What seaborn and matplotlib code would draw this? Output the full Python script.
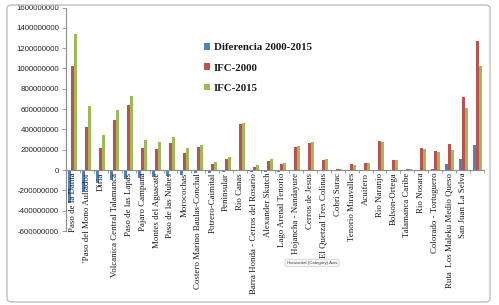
import numpy as np
import pandas as pd
import matplotlib
matplotlib.use("Agg")
import matplotlib.pyplot as plt
from matplotlib.patches import FancyBboxPatch, Patch
from matplotlib.ticker import FixedLocator, FuncFormatter
import seaborn as sns

# Data
categories = [
    "Paso de la Danta", "'Paso del Mono Aullador", "Diria", "Volcanica Central Talamanca",
    "Paso de las Lapas", "Pajaro Campana", "Montes del Aguacate", "Paso de las Nubes",
    "Morocochas", "Costero Marino Baulas-Conchal", "Potrero-Caimital", "Peninsular",
    "Rio Canas", "Barra Honda - Cerros del Rosario", "Alexander Skutch", "Lago Arenal Tenorio",
    "Hojancha - Nandayure", "Cerros de Jesus", "El Quetzal Tres Colinas", "Cobri Surac",
    "Tenorio Miravalles", "Acuifero", "Rio Naranjo", "Bolson-Ortega", "Talamanca Caribe",
    "Rio Nosara", "Colorado - Tortuguero", "Ruta  Los Maleku Medio Queso", "San Juan La Selva", "",
]
diferencia = [
    -320e6, -210e6, -125e6, -100e6, -90e6, -80e6, -70e6, -60e6, -50e6, -25e6,
    -25e6, -20e6, -10e6, -15e6, -20e6, -15e6, -10e6, -10e6, -5e6, -2e6,
    3e6, 2e6, 5e6, 3e6, 1e6, 5e6, 15e6, 55e6, 110e6, 245e6,
]
ifc_2000 = [
    1020e6, 420e6, 220e6, 490e6, 640e6, 220e6, 210e6, 270e6, 170e6, 225e6,
    55e6, 110e6, 455e6, 30e6, 90e6, 55e6, 230e6, 265e6, 100e6, 10e6,
    55e6, 68e6, 285e6, 98e6, 8e6, 215e6, 190e6, 255e6, 720e6, 1270e6,
]
ifc_2015 = [
    1340e6, 630e6, 345e6, 590e6, 730e6, 300e6, 280e6, 330e6, 220e6, 250e6,
    80e6, 130e6, 465e6, 45e6, 110e6, 70e6, 240e6, 275e6, 105e6, 12e6,
    52e6, 66e6, 280e6, 95e6, 7e6, 210e6, 175e6, 200e6, 610e6, 1025e6,
]
series_names = ["Diferencia 2000-2015", "IFC-2000", "IFC-2015"]
colors = ["#4F81BD", "#C0504D", "#9BBB59"]
y_ticks = [-600e6, -400e6, -200e6, 0, 200e6, 400e6, 600e6, 800e6,
           1000e6, 1200e6, 1400e6, 1600e6]

plt.rcParams["font.family"] = ["Liberation Sans", "DejaVu Sans"]

# long form table for seaborn
idx = list(range(len(categories)))
df = pd.concat([
    pd.DataFrame({"pos": idx, "valor": vals, "serie": name})
    for name, vals in zip(series_names, [diferencia, ifc_2000, ifc_2015])
])

W, H = 499, 305
fig = plt.figure(figsize=(W / 100, H / 100), dpi=100)
ax = fig.add_axes([66 / W, 1 - 231 / H, (484 - 66) / W, (231 - 7.5) / H])

sns.barplot(data=df, x="pos", y="valor", hue="serie", hue_order=series_names,
            palette=colors, width=0.65, ax=ax, legend=False, saturation=1)

ax.set_xlim(-0.5, len(categories) - 0.5)
ax.set_ylim(-600e6, 1600e6)
ax.set_xlabel("")
ax.set_ylabel("")

# spines
for s in ["top", "right"]:
    ax.spines[s].set_visible(False)
ax.spines["left"].set_color("#8c8c8c")
ax.spines["left"].set_linewidth(0.8)
ax.spines["bottom"].set_position(("data", 0))
ax.spines["bottom"].set_color("#8c8c8c")
ax.spines["bottom"].set_linewidth(0.8)

# y axis
ax.yaxis.set_major_locator(FixedLocator(y_ticks))
ax.yaxis.set_major_formatter(FuncFormatter(lambda v, p: f"{int(round(v))}"))
ax.tick_params(axis="y", length=3, width=0.6, color="#8c8c8c", pad=2,
               labelsize=5.7, labelcolor="#262626")

# x axis: labels under the zero line, tick marks between categories
ax.set_xticks(idx)
ax.set_xticklabels(categories, rotation=90, fontsize=6.4, family="Liberation Serif",
                   color="#1a1a1a", va="top", ha="center")
ax.tick_params(axis="x", length=0, pad=2)
ax.set_xticks(np.arange(-0.5, len(categories), 1.0), minor=True)
ax.tick_params(axis="x", which="minor", length=2.5, width=0.6, color="#8c8c8c",
               direction="out")

# legend
handles = [Patch(facecolor=c, edgecolor="none") for c in colors]
leg = fig.legend(handles, series_names, loc="upper left",
                 bbox_to_anchor=(204 / W, 1 - 43 / H), frameon=False,
                 prop={"family": "Liberation Serif", "weight": "bold", "size": 7.8},
                 handlelength=0.55, handleheight=0.55, handletextpad=0.35,
                 labelspacing=1.05, borderpad=0, borderaxespad=0)
for t in leg.get_texts():
    t.set_color("#1a1a1a")

# tooltip artefact from the original screenshot
fig.text(312 / W, 1 - 263 / H, "Horizontal (Category) Axis", fontsize=3.2,
         ha="center", va="center", color="#444444",
         bbox=dict(boxstyle="round,pad=0.4", fc="#f7f7f7", ec="#c8c8c8", lw=0.5))

# chart area border
border = FancyBboxPatch((7 / W, 3 / H), (490 - 7) / W, (300 - 3) / H,
                        boxstyle="round,pad=0,rounding_size=0.01",
                        transform=fig.transFigure, fill=False,
                        ec="#bfbfbf", lw=1.0)
fig.patches.append(border)

fig.savefig("out.png", dpi=100)
